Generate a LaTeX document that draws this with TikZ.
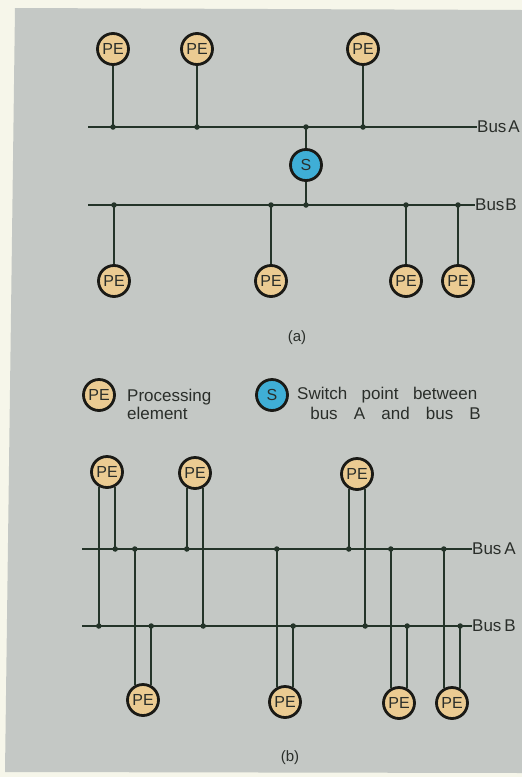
\documentclass[tikz,border=0pt]{standalone}
\usepackage{fontspec}
\setmainfont{Liberation Sans}
\definecolor{paper}{HTML}{F6F6EA}
\definecolor{bg}{HTML}{C4C8C5}
\definecolor{pefill}{HTML}{EBCB92}
\definecolor{sfill}{HTML}{3FAED6}
\definecolor{ring}{HTML}{1A1A16}
\definecolor{wire}{HTML}{243429}
\definecolor{ink}{HTML}{2A2E2A}
\begin{document}
\begin{tikzpicture}[x=1pt,y=-1pt,
  unit/.style={circle,draw=ring,line width=2.8pt,minimum size=31pt,inner sep=0pt,text=ink,font=\fontsize{16}{16}\selectfont},
  pe/.style={unit,fill=pefill},
  sw/.style={unit,fill=sfill},
  wirel/.style={draw=wire,line width=1.6pt},
  dot/.style={circle,fill=wire,inner sep=0pt,minimum size=5.5pt},
  lbl/.style={text=ink,font=\fontsize{17}{17}\selectfont,inner sep=0pt},
  figcap/.style={text=ink,font=\fontsize{15}{15}\selectfont,inner sep=0pt}]
\useasboundingbox (0,0) rectangle (522,777);
\fill[paper] (0,0) rectangle (522,777);
\fill[bg] (15,8) -- (522,10) -- (522,773) -- (5,772) -- cycle;

% ---------------- (a) ----------------
\coordinate (aAs) at (88,127);
\coordinate (aAe) at (477,127);
\coordinate (aBs) at (88,205);
\coordinate (aBe) at (475,205);
\draw[wirel] (aAs) -- (aAe);
\draw[wirel] (aBs) -- (aBe);
\node[lbl,anchor=west] (aAl) at (aAe) {Bus\hspace{2pt}A};
\node[lbl,anchor=west] (aBl) at (aBe) {Bus\hspace{1pt}B};

\node[pe] (a1) at (113,49) {PE};
\node[pe] (a2) at (197,49) {PE};
\node[pe] (a3) at (363,49) {PE};
\node[sw] (s) at (306,165) {S};
\node[pe] (b1) at (114,281) {PE};
\node[pe] (b2) at (271,281) {PE};
\node[pe] (b3) at (406,281) {PE};
\node[pe] (b4) at (458,281) {PE};

\foreach \n in {a1,a2,a3}{
  \draw[wirel] (\n) -- (\n |- aAs) node[dot]{};
}
\draw[wirel] (s) -- (s |- aAs) node[dot]{};
\draw[wirel] (s) -- (s |- aBs) node[dot]{};
\foreach \n in {b1,b2,b3,b4}{
  \draw[wirel] (\n) -- (\n |- aBs) node[dot]{};
}
\node[figcap] (la) at (297,338) {(a)};

% ---------------- legend ----------------
\node[pe] (kpe) at (99,395) {PE};
\node[lbl,anchor=west,align=left] (kpet) at (127,404) {Processing\\[1pt]element};
\node[sw] (ks) at (272,395) {S};
\node[lbl,anchor=west] (kst1) at (297,395) {Switch\hspace{0.85em}point\hspace{0.85em}between};
\node[lbl,anchor=east] (kst2) at (481,413) {bus\hspace{0.95em}A\hspace{0.95em}and\hspace{0.95em}bus\hspace{0.95em}B};

% ---------------- (b) ----------------
\coordinate (bAs) at (82,549);
\coordinate (bAe) at (472,549);
\coordinate (bBs) at (82,626);
\coordinate (bBe) at (472,626);
\draw[wirel] (bAs) -- (bAe);
\draw[wirel] (bBs) -- (bBe);
\node[lbl,anchor=west] (bAl) at (bAe) {Bus\hspace{3pt}A};
\node[lbl,anchor=west] (bBl) at (bBe) {Bus\hspace{3pt}B};

\node[pe] (p1) at (107,472) {PE};
\node[pe] (p2) at (195,473) {PE};
\node[pe] (p3) at (357,474) {PE};
\node[pe] (q1) at (143,700) {PE};
\node[pe] (q2) at (285,702) {PE};
\node[pe] (q3) at (399,703) {PE};
\node[pe] (q4) at (452,703) {PE};

% top PEs: one lead to bus A (dot), one through bus A to bus B (dot)
\draw[wirel] (p1.299) -- (p1.299 |- bAs) node[dot]{};
\draw[wirel] (p1.241) -- (p1.241 |- bBs) node[dot]{};
\draw[wirel] (p2.241) -- (p2.241 |- bAs) node[dot]{};
\draw[wirel] (p2.299) -- (p2.299 |- bBs) node[dot]{};
\draw[wirel] (p3.241) -- (p3.241 |- bAs) node[dot]{};
\draw[wirel] (p3.299) -- (p3.299 |- bBs) node[dot]{};
% bottom PEs: left lead from bus A (dot) through bus B, right lead from bus B (dot)
\foreach \n in {q1,q2,q3,q4}{
  \draw[wirel] (\n.119) -- (\n.119 |- bAs) node[dot]{};
  \draw[wirel] (\n.61) -- (\n.61 |- bBs) node[dot]{};
}
\node[figcap] (lb) at (290,758) {(b)};
\end{tikzpicture}
\end{document}
